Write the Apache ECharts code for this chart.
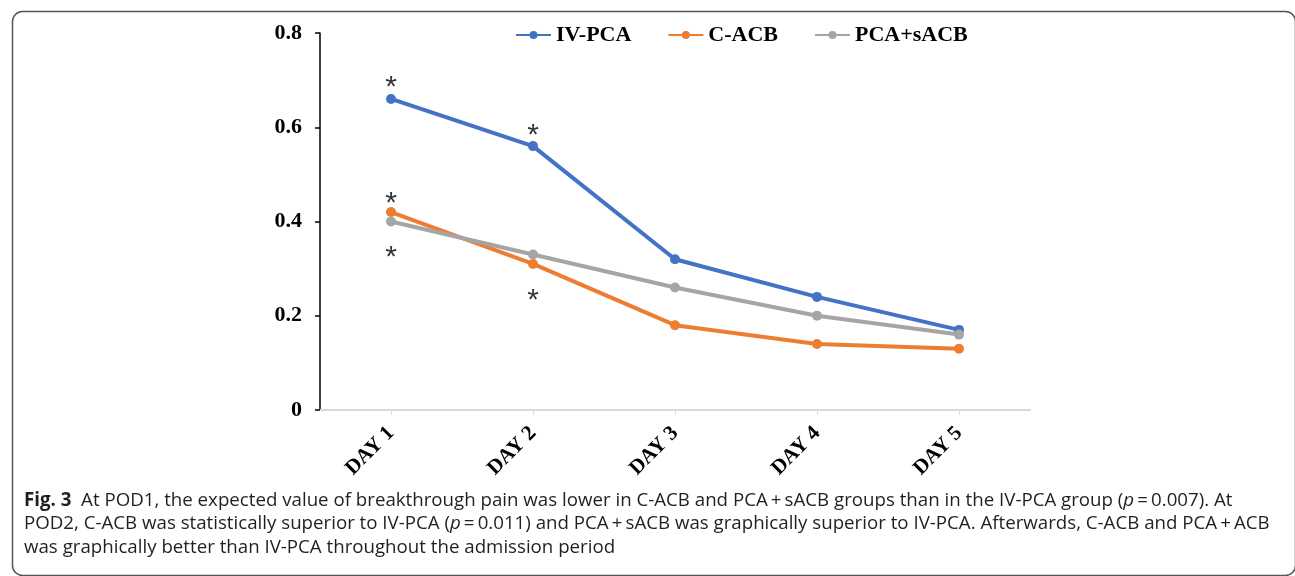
<!DOCTYPE html>
<html>
<head>
<meta charset="utf-8">
<script src="https://cdn.jsdelivr.net/npm/echarts@6/dist/echarts.min.js"></script>
<style>
html,body{margin:0;padding:0;background:#fff;}
#chart{width:1295px;height:576px;}
</style>
</head>
<body>
<div id="chart"></div>
<script>
const categories = ['DAY 1', 'DAY 2', 'DAY 3', 'DAY 4', 'DAY 5'];
const ivPca = [0.66, 0.56, 0.32, 0.24, 0.17];
const cAcb = [0.42, 0.31, 0.18, 0.14, 0.13];
const pcaSacb = [0.40, 0.33, 0.26, 0.20, 0.16];
const seriesNames = ['IV-PCA', 'C-ACB', 'PCA+sACB'];
const yTicks = [0, 0.2, 0.4, 0.6, 0.8];
// significance markers: [category, value]
const asterisks = [['DAY 1', 0.70], ['DAY 2', 0.598], ['DAY 1', 0.455], ['DAY 1', 0.34], ['DAY 2', 0.248]];
const captionLines = [
  ['Fig. 3', '  At POD1, the expected value of breakthrough pain was lower in C-ACB and PCA\u2009+\u2009sACB groups than in the IV-PCA group (', 'p', '\u2009=\u20090.007). At'],
  ['', 'POD2, C-ACB was statistically superior to IV-PCA (', 'p', '\u2009=\u20090.011) and PCA\u2009+\u2009sACB was graphically superior to IV-PCA. Afterwards, C-ACB and PCA\u2009+\u2009ACB'],
  ['', 'was graphically better than IV-PCA throughout the admission period']
];
const colors = ['#4472C4', '#ED7D31', '#A5A5A5'];

const chart = echarts.init(document.getElementById('chart'), null, {renderer: 'canvas'});
const serif = '"Liberation Serif", "Times New Roman", serif';
const capFont = '"Open Sans", "Noto Sans", sans-serif';
const capSize = 18.7;

function lineSeries(name, data, color) {
  return {
    name: name, type: 'line', data: data,
    symbol: 'circle', symbolSize: 10,
    lineStyle: {width: 4, color: color},
    itemStyle: {color: color},
    z: 3
  };
}

const captionGraphics = captionLines.map((ln, i) => {
  let t = '';
  if (ln[0]) t += '{b|' + ln[0] + '}';
  t += '{n|' + ln[1] + '}';
  if (ln[2]) t += '{i|' + ln[2] + '}';
  if (ln[3]) t += '{n|' + ln[3] + '}';
  return {
    type: 'text', left: 24, top: 491 + i * 23.5,
    style: {
      text: t,
      rich: {
        b: {fontFamily: capFont, fontSize: capSize, fontWeight: 'bold', fill: '#231f20'},
        n: {fontFamily: capFont, fontSize: capSize, fill: '#231f20'},
        i: {fontFamily: capFont, fontSize: capSize, fontStyle: 'italic', fill: '#231f20'}
      }
    }
  };
});

chart.setOption({
  animation: false,
  backgroundColor: '#fff',
  color: colors,
  grid: {left: 320, top: 33, right: 265, bottom: 166, containLabel: false},
  legend: {
    data: seriesNames,
    left: 515, top: 24, padding: 0,
    itemWidth: 35, itemHeight: 10, itemGap: 36,
    textStyle: {fontFamily: serif, fontWeight: 'bold', fontSize: 22, color: '#000'}
  },
  xAxis: {
    type: 'category', data: categories, boundaryGap: true,
    axisLine: {lineStyle: {color: '#D9D9D9', width: 2}},
    axisTick: {show: true, alignWithLabel: true, length: 5, lineStyle: {color: '#D9D9D9', width: 1}},
    axisLabel: {rotate: 45, margin: 20, fontFamily: serif, fontWeight: 'bold', fontSize: 21, color: '#000'}
  },
  yAxis: {
    type: 'value', min: 0, max: 0.8, interval: 0.2,
    splitLine: {show: false},
    axisLine: {show: true, lineStyle: {color: '#000', width: 1.5}},
    axisTick: {show: true, length: 5, lineStyle: {color: '#000', width: 1.5}},
    axisLabel: {
      margin: 18, fontFamily: serif, fontWeight: 'bold', fontSize: 22, color: '#000',
      formatter: v => (v === 0 ? '0' : v.toFixed(1))
    }
  },
  series: [
    lineSeries(seriesNames[0], ivPca, colors[0]),
    lineSeries(seriesNames[1], cAcb, colors[1]),
    lineSeries(seriesNames[2], pcaSacb, colors[2]),
    {
      name: 'sig', type: 'scatter', data: asterisks,
      symbolSize: 0, silent: true, z: 5,
      label: {
        show: true, position: 'inside', formatter: '*', offset: [0, 8],
        fontFamily: '"Liberation Sans", "DejaVu Sans", sans-serif', fontSize: 30, color: '#000'
      }
    }
  ],
  graphic: [
    {
      type: 'rect', left: 10, top: 9, silent: true, z: -1,
      shape: {width: 1283, height: 564, r: 10},
      style: {fill: 'none', stroke: '#555', lineWidth: 1.5}
    }
  ].concat(captionGraphics)
});
</script>
</body>
</html>
